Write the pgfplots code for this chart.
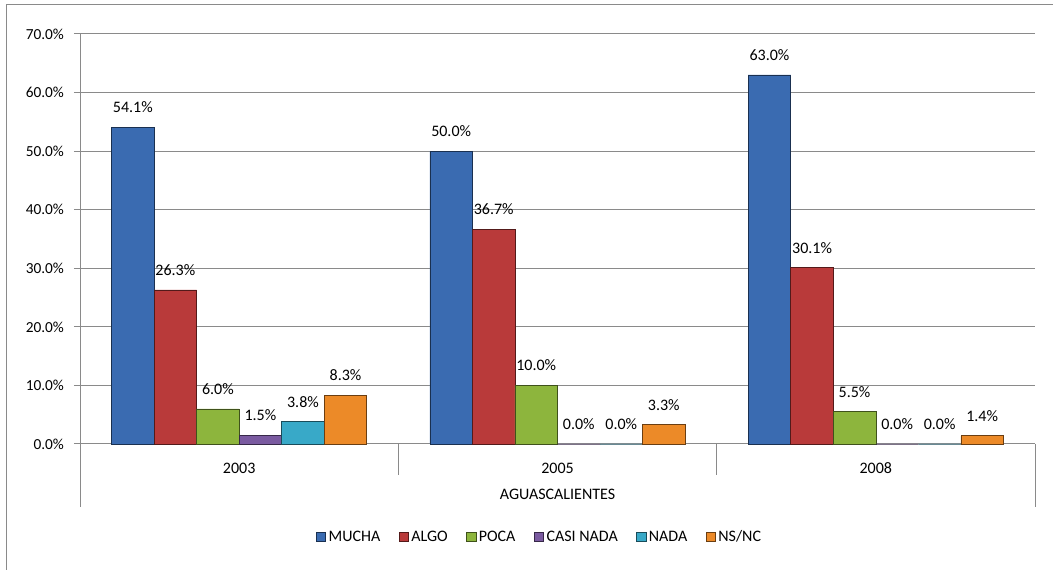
\documentclass[border=0pt]{standalone}
\usepackage{pgfplots}
\pgfplotsset{compat=1.18}
\usepackage{fontspec}
\setmainfont{Carlito}
\definecolor{gridgray}{HTML}{8A8A8A}
\definecolor{cBlue}{HTML}{3A6BB1}
\definecolor{cRed}{HTML}{B93A3A}
\definecolor{cGreen}{HTML}{8DB53D}
\definecolor{cPurple}{HTML}{7A5AA0}
\definecolor{cCyan}{HTML}{38A9C8}
\definecolor{cOrange}{HTML}{EC8A28}
\pgfplotsset{
  mybar/.style={
    fill=#1, draw=#1!45!black, line width=0.5pt,
    legend image code/.code={\fill[##1] (0pt,-3.4pt) rectangle (6.8pt,3.4pt);}
  }
}
\begin{document}
\begin{tikzpicture}
\path[use as bounding box] (0pt,0pt) rectangle (789.75pt,427.5pt);
\draw[gridgray, line width=0.75pt] (4.9pt,0pt) -- (4.9pt,423.75pt) -- (789.75pt,423.75pt);
\begin{axis}[
  at={(60pt,94.5pt)}, anchor=south west,
  scale only axis, width=716.25pt, height=307.5pt,
  xmin=-0.5, xmax=2.5, ymin=0, ymax=70,
  ybar=0pt, bar width=31.9pt,
  axis lines*=left,
  axis line style={gridgray, line width=0.75pt},
  xtick={0,1,2}, xticklabels={2003,2005,2008},
  x tick style={draw=none},
  xticklabel style={anchor=center, yshift=-13.5pt, font=\fontsize{12}{14}\selectfont},
  ytick={0,10,...,70},
  y tick style={gridgray, line width=0.75pt},
  tick align=outside, major tick length=4.5pt,
  ymajorgrids, grid style={gridgray, line width=0.75pt},
  /pgf/number format/assume math mode=true,
  yticklabel={\pgfmathprintnumber[fixed,fixed zerofill,precision=1]{\tick}\%},
  yticklabel style={font=\fontsize{11.5}{14}\selectfont, xshift=-4pt},
  nodes near coords={\pgfmathprintnumber[fixed,fixed zerofill,precision=1]{\pgfplotspointmeta}\%},
  every node near coord/.append style={anchor=center, yshift=15pt, font=\fontsize{12}{14}\selectfont, text=black},
  clip=false,
  legend style={at={(0.4817,-0.2268)}, anchor=center, draw=none, fill=none,
    legend columns=-1, font=\fontsize{12}{14}\selectfont,
    /tikz/every even column/.append style={column sep=12pt},
    legend cell align=left, inner sep=0pt},
]
\addplot[mybar=cBlue] coordinates {(0,54.1) (1,50.0) (2,63.0)};
\addplot[mybar=cRed] coordinates {(0,26.3) (1,36.7) (2,30.1)};
\addplot[mybar=cGreen] coordinates {(0,6.0) (1,10.0) (2,5.5)};
\addplot[mybar=cPurple] coordinates {(0,1.5) (1,0.0) (2,0.0)};
\addplot[mybar=cCyan] coordinates {(0,3.8) (1,0.0) (2,0.0)};
\addplot[mybar=cOrange] coordinates {(0,8.3) (1,3.3) (2,1.4)};
\legend{MUCHA,ALGO,POCA,CASI NADA,NADA,NS/NC}
\draw[gridgray, line width=0.75pt] (axis cs:0.5,0) -- ++(0pt,-23.25pt);
\draw[gridgray, line width=0.75pt] (axis cs:1.5,0) -- ++(0pt,-23.25pt);
\draw[gridgray, line width=0.75pt] (rel axis cs:0,0) -- ++(0pt,-47.25pt);
\draw[gridgray, line width=0.75pt] (rel axis cs:1,0) -- ++(0pt,-47.25pt);
\node[font=\fontsize{12}{14}\selectfont] at ([yshift=-38pt]rel axis cs:0.5,0) {AGUASCALIENTES};
\end{axis}
\end{tikzpicture}
\end{document}
